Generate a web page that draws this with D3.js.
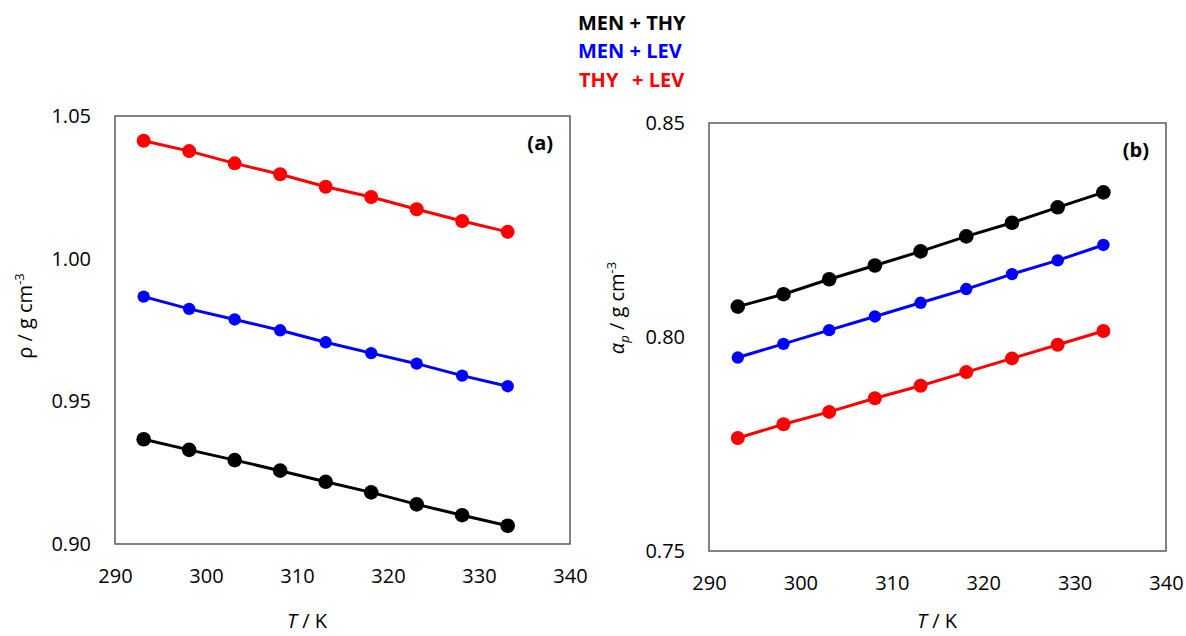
<!DOCTYPE html>
<html>
<head>
<meta charset="utf-8">
<script src="https://cdn.jsdelivr.net/npm/d3@7"></script>
<style>
  body { margin: 0; background: #fff; }
  svg { font-family: "Open Sans", sans-serif; }
</style>
</head>
<body>
<script>
// data
var temps = [293.15, 298.15, 303.15, 308.15, 313.15, 318.15, 323.15, 328.15, 333.15];
var seriesNames = ["MEN + THY", "MEN + LEV", "THY + LEV"];
var seriesColors = ["#000000", "#0000ff", "#ff0000"];

// panel (a) density
var rhoMenThy = [0.9367, 0.9330, 0.9294, 0.9257, 0.9218, 0.9181, 0.9139, 0.9101, 0.9064];
var rhoMenLev = [0.9867, 0.9824, 0.9787, 0.9749, 0.9707, 0.9669, 0.9632, 0.9590, 0.9553];
var rhoThyLev = [1.0413, 1.0377, 1.0334, 1.0296, 1.0252, 1.0216, 1.0173, 1.0132, 1.0094];

// panel (b)
var alphaMenThy = [0.8071, 0.8100, 0.8135, 0.8167, 0.8200, 0.8235, 0.8267, 0.8303, 0.8338];
var alphaMenLev = [0.7952, 0.7984, 0.8016, 0.8048, 0.8080, 0.8112, 0.8147, 0.8179, 0.8215];
var alphaThyLev = [0.7764, 0.7796, 0.7825, 0.7857, 0.7886, 0.7918, 0.7950, 0.7982, 0.8014];

var xTicks = [290, 300, 310, 320, 330, 340];
var yTicksA = [0.90, 0.95, 1.00, 1.05];
var yTicksB = [0.75, 0.80, 0.85];

var radii = [7.3, 6.2, 7];

var svg = d3.select("body")
    .append("svg")
    .attr("width", 1186)
    .attr("height", 636);

function drawPanel(left, top, w, h, yDomain, yTicks, series, label) {
    var g = svg.append("g")
        .attr("transform", "translate(" + left + "," + top + ")");

    var x = d3.scaleLinear().domain([290, 340]).range([0, w]);
    var y = d3.scaleLinear().domain(yDomain).range([h, 0]);

    // frame
    g.append("rect")
        .attr("width", w)
        .attr("height", h)
        .attr("fill", "none")
        .attr("stroke", "#595959")
        .attr("stroke-width", 1.5);

    var xa = g.append("g")
        .attr("transform", "translate(0," + h + ")")
        .call(d3.axisBottom(x).tickValues(xTicks).tickSize(0).tickPadding(25).tickFormat(d3.format("d")));
    var ya = g.append("g")
        .call(d3.axisLeft(y).tickValues(yTicks).tickSize(0).tickPadding(24).tickFormat(d3.format(".2f")));
    [xa, ya].forEach(function (a) {
        a.select(".domain").remove();
        a.selectAll("text")
            .attr("font-size", 20)
            .attr("font-family", "Open Sans")
            .attr("fill", "#000");
    });

    var line = d3.line()
        .x(function (d, i) { return x(temps[i]); })
        .y(function (d) { return y(d); });

    series.forEach(function (vals, s) {
        g.append("path")
            .datum(vals)
            .attr("fill", "none")
            .attr("stroke", seriesColors[s])
            .attr("stroke-width", 3)
            .attr("d", line);
        g.selectAll(".pt" + s)
            .data(vals)
            .enter()
            .append("circle")
            .attr("cx", function (d, i) { return x(temps[i]); })
            .attr("cy", function (d) { return y(d); })
            .attr("r", radii[s])
            .attr("fill", seriesColors[s]);
    });

    g.append("text")
        .attr("x", w - 17)
        .attr("y", 34)
        .attr("text-anchor", "end")
        .attr("font-size", 20)
        .attr("font-weight", "bold")
        .text(label);
    return g;
}

drawPanel(115, 116, 455, 428, [0.90, 1.05], yTicksA, [rhoMenThy, rhoMenLev, rhoThyLev], "(a)");
drawPanel(709, 123, 457, 428, [0.75, 0.85], yTicksB, [alphaMenThy, alphaMenLev, alphaThyLev], "(b)");

// x titles
function xTitle(cx) {
    var t = svg.append("text")
        .attr("x", cx)
        .attr("y", 628)
        .attr("text-anchor", "middle")
        .attr("font-size", 20);
    t.append("tspan").attr("font-style", "italic").text("T");
    t.append("tspan").text(" / K");
}
xTitle(307);
xTitle(937);

// y titles
var ta = svg.append("text")
    .attr("transform", "translate(32,316) rotate(-90)")
    .attr("text-anchor", "middle")
    .attr("font-size", 20);
ta.append("tspan").text("ρ / g cm");
ta.append("tspan").attr("font-size", 13).attr("dy", -8).text("-3");

var tb = svg.append("text")
    .attr("transform", "translate(624,308) rotate(-90)")
    .attr("text-anchor", "middle")
    .attr("font-size", 20);
tb.append("tspan").attr("font-style", "italic").text("α");
tb.append("tspan").attr("font-style", "italic").attr("font-size", 13).attr("dy", 5).text("p");
tb.append("tspan").attr("dy", -5).text(" / g cm");
tb.append("tspan").attr("font-size", 13).attr("dy", -8).text("-3");

// legend
var legY = [30, 58, 87];
seriesNames.forEach(function (name, i) {
    var parts = name.split(" + ");
    var t = svg.append("text")
        .attr("y", legY[i])
        .attr("font-size", 20)
        .attr("font-weight", "bold")
        .attr("fill", seriesColors[i]);
    if (i === 2) {
        t.attr("x", 579).text(parts[0]);
        svg.append("text")
            .attr("x", 632)
            .attr("y", legY[i])
            .attr("font-size", 20)
            .attr("font-weight", "bold")
            .attr("fill", seriesColors[i])
            .text("+ " + parts[1]);
    } else {
        t.attr("x", 578).text(name);
    }
});
</script>
</body>
</html>
